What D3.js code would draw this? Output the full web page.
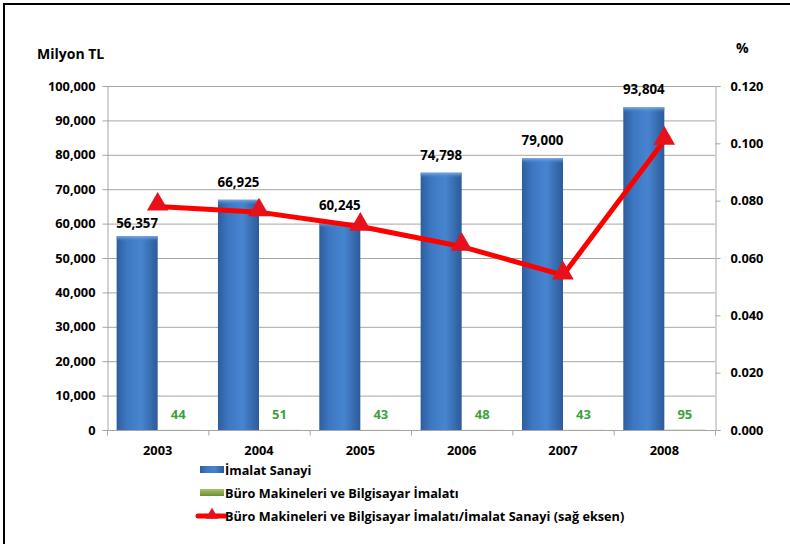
<!DOCTYPE html>
<html>
<head>
    <meta charset="utf-8">
    <title>İmalat Sanayi</title>
    <script src="https://d3js.org/d3.v7.min.js"></script>
    <style>
        body { margin: 0; background: #fff; }
        text { font-family: "Open Sans", "DejaVu Sans", sans-serif; font-weight: bold; }
    </style>
</head>
<body>
<script>
    // chart data
    const years = ["2003", "2004", "2005", "2006", "2007", "2008"];
    const imalat = [56357, 66925, 60245, 74798, 79000, 93804];
    const buro = [44, 51, 43, 48, 43, 95];
    const ratio = [0.078, 0.076, 0.071, 0.064, 0.054, 0.101];
    const leftTicks = [0, 10000, 20000, 30000, 40000, 50000, 60000, 70000, 80000, 90000, 100000];
    const rightTicks = [0, 0.02, 0.04, 0.06, 0.08, 0.1, 0.12];
    const legendLabels = ["İmalat Sanayi", "Büro Makineleri ve Bilgisayar İmalatı",
        "Büro Makineleri ve Bilgisayar İmalatı/İmalat Sanayi (sağ eksen)"];

    const width = 790, height = 544;
    const m = {left: 107, right: 715, top: 86, bottom: 430};

    const svg = d3.select("body").append("svg")
        .attr("width", width)
        .attr("height", height);

    // bar gradients
    const defs = svg.append("defs");
    const g1 = defs.append("linearGradient").attr("id", "blueGrad");
    g1.append("stop").attr("offset", "0%").attr("stop-color", "#2d5e9e");
    g1.append("stop").attr("offset", "25%").attr("stop-color", "#3d77c2");
    g1.append("stop").attr("offset", "60%").attr("stop-color", "#4784d0");
    g1.append("stop").attr("offset", "100%").attr("stop-color", "#2c5b98");
    const g2 = defs.append("linearGradient").attr("id", "greenGrad").attr("x1", 0).attr("x2", 0).attr("y1", 0).attr("y2", 1);
    g2.append("stop").attr("offset", "0%").attr("stop-color", "#a9c36a");
    g2.append("stop").attr("offset", "100%").attr("stop-color", "#6f8c35");
    const g3 = defs.append("linearGradient").attr("id", "capGrad").attr("x1", 0).attr("x2", 0).attr("y1", 0).attr("y2", 1);
    g3.append("stop").attr("offset", "0%").attr("stop-color", "#7eaae2");
    g3.append("stop").attr("offset", "100%").attr("stop-color", "#4784d0").attr("stop-opacity", 0);

    // frame (cropped at right and bottom)
    svg.append("path")
        .attr("d", "M4,544 V4 H790")
        .attr("fill", "none")
        .attr("stroke", "#000")
        .attr("stroke-width", 2);

    const x = d3.scaleBand().domain(years).range([m.left, m.right]).paddingInner(0.19).paddingOuter(0.095);
    const xSub = d3.scaleBand().domain(["a", "b"]).range([0, x.bandwidth()]);
    const y = d3.scaleLinear().domain([0, 100000]).range([m.bottom, m.top]);
    const y2 = d3.scaleLinear().domain([0, 0.12]).range([m.bottom, m.top]);
    const xc = d => x(d) + x.bandwidth() / 2;

    // gridlines
    svg.append("g").selectAll("line")
        .data(leftTicks.filter(d => d > 0))
        .join("line")
        .attr("x1", m.left).attr("x2", m.right)
        .attr("y1", d => y(d) + 0.5).attr("y2", d => y(d) + 0.5)
        .attr("stroke", "#a6a6a6");

    // left axis
    const leftAxis = svg.append("g")
        .attr("transform", `translate(${m.left + 0.5},0)`)
        .call(d3.axisLeft(y).tickValues(leftTicks).tickSize(5).tickPadding(7)
            .tickFormat(d3.format(",")));
    leftAxis.selectAll("text").attr("font-size", 12.8).attr("fill", "#000");

    // right axis
    const rightAxis = svg.append("g")
        .attr("transform", `translate(${m.right + 0.5},0)`)
        .call(d3.axisRight(y2).tickValues(rightTicks).tickSize(5).tickPadding(10)
            .tickFormat(d3.format(".3f")));
    rightAxis.selectAll("text").attr("font-size", 12.8).attr("fill", "#000");

    // bottom axis, ticks at category boundaries
    const bottom = svg.append("g").attr("transform", `translate(0,${m.bottom + 0.5})`);
    bottom.append("line").attr("x1", m.left).attr("x2", m.right).attr("stroke", "#a6a6a6");
    const step = (m.right - m.left) / years.length;
    bottom.selectAll(".tk").data(d3.range(years.length + 1)).join("line")
        .attr("x1", i => m.left + i * step + 0.5).attr("x2", i => m.left + i * step + 0.5)
        .attr("y1", 0).attr("y2", 5).attr("stroke", "#a6a6a6");
    bottom.selectAll("text").data(years).join("text")
        .attr("x", d => xc(d)).attr("y", 24)
        .attr("text-anchor", "middle")
        .attr("font-size", 12.8)
        .text(d => d);

    [leftAxis, rightAxis].forEach(a => {
        a.select(".domain").attr("stroke", "#a6a6a6");
        a.selectAll(".tick line").attr("stroke", "#a6a6a6");
    });

    // İmalat Sanayi bars
    svg.append("g").selectAll("rect")
        .data(years)
        .join("rect")
        .attr("x", d => x(d) + xSub("a"))
        .attr("y", (d, i) => y(imalat[i]))
        .attr("width", xSub.bandwidth())
        .attr("height", (d, i) => y(0) - y(imalat[i]))
        .attr("fill", "url(#blueGrad)");
    // light top cap
    svg.append("g").selectAll("rect")
        .data(years)
        .join("rect")
        .attr("x", d => x(d) + xSub("a"))
        .attr("y", (d, i) => y(imalat[i]))
        .attr("width", xSub.bandwidth())
        .attr("height", 5)
        .attr("fill", "url(#capGrad)");

    // Büro bars (tiny)
    svg.append("g").selectAll("rect")
        .data(years)
        .join("rect")
        .attr("x", d => x(d) + xSub("b"))
        .attr("y", (d, i) => y(buro[i]))
        .attr("width", xSub.bandwidth())
        .attr("height", (d, i) => y(0) - y(buro[i]))
        .attr("fill", "url(#greenGrad)");

    // bar labels
    svg.append("g").selectAll("text")
        .data(years)
        .join("text")
        .attr("x", d => x(d) + xSub("a") + xSub.bandwidth() / 2)
        .attr("y", (d, i) => y(imalat[i]) - (i === 0 ? 8 : 13))
        .attr("text-anchor", "middle")
        .attr("font-size", 13.3)
        .text((d, i) => d3.format(",")(imalat[i]));

    svg.append("g").selectAll("text")
        .data(years)
        .join("text")
        .attr("x", d => x(d) + xSub("b") + xSub.bandwidth() / 2)
        .attr("y", m.bottom - 11)
        .attr("text-anchor", "middle")
        .attr("font-size", 13)
        .attr("fill", "#3aa33a")
        .text((d, i) => buro[i]);

    // ratio line
    const line = d3.line().x(d => xc(d[0])).y(d => y2(d[1]));
    const pts = years.map((d, i) => [d, ratio[i]]);
    svg.append("path")
        .datum(pts)
        .attr("d", line)
        .attr("fill", "none")
        .attr("stroke", "#ff0000")
        .attr("stroke-width", 5)
        .attr("stroke-linejoin", "round");

    const tri = d3.symbol().type(d3.symbolTriangle).size(200);
    svg.append("g").selectAll("path")
        .data(pts)
        .join("path")
        .attr("d", tri)
        .attr("transform", d => `translate(${xc(d[0])},${y2(d[1]) - 2})`)
        .attr("fill", "#e8101a");

    // axis titles
    svg.append("text").attr("x", 37).attr("y", 59).attr("font-size", 14).text("Milyon TL");
    svg.append("text").attr("x", 736).attr("y", 53).attr("font-size", 14).text("%");

    // legend
    const legend = svg.append("g").attr("transform", "translate(200,0)");
    const ly = [470, 493, 516];
    legend.append("rect").attr("x", 0).attr("y", ly[0] - 4).attr("width", 24).attr("height", 7).attr("fill", "url(#blueGrad)");
    legend.append("rect").attr("x", 0).attr("y", ly[1] - 4).attr("width", 24).attr("height", 7).attr("fill", "url(#greenGrad)");
    legend.append("line").attr("x1", -2).attr("x2", 25).attr("y1", ly[2]).attr("y2", ly[2])
        .attr("stroke", "#ff0000").attr("stroke-width", 5).attr("stroke-linecap", "round");
    legend.append("path").attr("d", d3.symbol().type(d3.symbolTriangle).size(70))
        .attr("transform", `translate(12,${ly[2] - 1})`).attr("fill", "#e8101a");
    legend.selectAll(".lt").data(legendLabels).join("text")
        .attr("x", 25).attr("y", (d, i) => ly[i] + 4.5)
        .attr("font-size", 12.7)
        .text(d => d);
</script>
</body>
</html>
